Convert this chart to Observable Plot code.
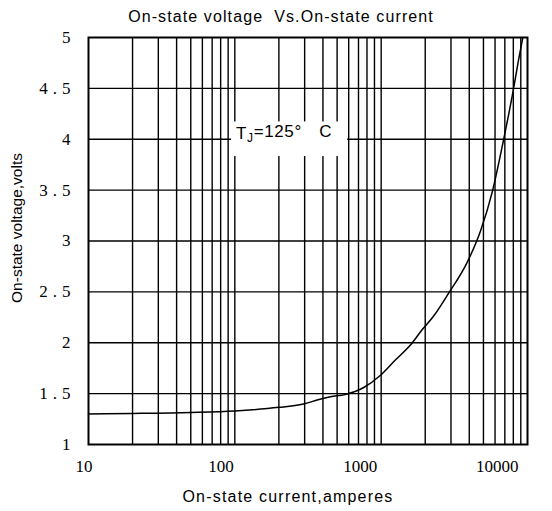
<!DOCTYPE html>
<html>
<head>
<meta charset="utf-8">
<script src="https://cdn.jsdelivr.net/npm/d3@7"></script>
<script src="https://cdn.jsdelivr.net/npm/@observablehq/plot@0.6"></script>
<style>
  body { margin: 0; background: #fff; }
  #title { width: 552px; height: 26px; box-sizing: border-box; padding: 8px 0 0 10px; text-align: center;
           font: 16px "Liberation Sans", Arial, sans-serif; letter-spacing: 1.1px; color: #000; white-space: pre; line-height: 18px; }
  #chart { line-height: 0; }
</style>
</head>
<body>
<div id="title"></div>
<div id="chart"></div>
<script>
const titleText = "On-state voltage  Vs.On-state current";
const xLabel = "On-state current,amperes";
const yLabel = "On-state voltage,volts";

const currents = [10, 20, 50, 100, 200, 300, 370, 450, 565, 760, 990, 1250, 1590, 1910, 2250, 2900, 3870, 4780, 5740, 6830, 7990, 8590, 9300];
const voltages = [1.30, 1.305, 1.315, 1.33, 1.365, 1.40, 1.44, 1.47, 1.49, 1.56, 1.68, 1.83, 1.98, 2.13, 2.25, 2.49, 2.79, 3.10, 3.48, 3.98, 4.48, 4.74, 5.0];

const xTicks = [10, 100, 1000, 10000];
const yTicks = [1, 1.5, 2, 2.5, 3, 3.5, 4, 4.5, 5];
const xGrid = [20,30,40,50,60,70,80,90,100,200,300,400,500,600,700,800,900,1000,2000,3000,4000,5000,6000,7000,8000,9000];
const yGrid = [1.5, 2, 2.5, 3, 3.5, 4, 4.5];

const annotMain = "T";
const annotSub = "J";
const annotRest = "=125°";
const annotUnit = "C";
const annotX = 217, annotY = 4.06;
const annotBox = {x1: 95, x2: 590, y1: 3.83, y2: 4.17};

document.getElementById("title").textContent = titleText;

const data = currents.map((c, i) => ({current: c, voltage: voltages[i]}));

const serif = "'Liberation Serif', 'DejaVu Serif', serif";
const sans = "'Liberation Sans', Arial, sans-serif";

// per-label horizontal nudges of the x tick labels (style only)
const xTickNudge = [4, -1, -4, -9];

const plot = Plot.plot({
  width: 552,
  height: 485,
  marginTop: 11,
  marginLeft: 88,
  marginRight: 25,
  marginBottom: 67,
  x: {type: "log", domain: [10, 10000]},
  y: {domain: [1, 5]},
  style: {background: "#fff", color: "#000", fontFamily: sans},
  marks: [
    Plot.ruleX(xGrid, {stroke: "#000", strokeWidth: 1.4}),
    Plot.ruleY(yGrid, {stroke: "#000", strokeWidth: 1.4}),
    Plot.rect([annotBox], {x1: "x1", x2: "x2", y1: "y1", y2: "y2", fill: "#fff"}),
    Plot.text([{x: annotX, y: annotY}], {x: "x", y: "y", text: () => annotMain + annotSub + annotRest + " " + annotUnit,
      fontSize: 17, fontFamily: sans, fill: "#000", className: "annot"}),
    Plot.line(data, {x: "current", y: "voltage", curve: "monotone-x", stroke: "#000", strokeWidth: 1.5}),
    Plot.frame({stroke: "#000", strokeWidth: 2}),
    ...xTicks.map((t, i) => Plot.axisX([t], {tickSize: 0, tickPadding: 15, tickFormat: d => String(d), label: null,
      fontSize: 17, fontFamily: serif, textAnchor: "end", dx: xTickNudge[i]})),
    Plot.axisY(yTicks, {tickSize: 0, tickPadding: 13, tickFormat: d => String(d), label: null,
      fontSize: 17, fontFamily: serif, className: "ytick"}),
    Plot.text([xLabel], {frameAnchor: "bottom", text: d => d, dy: 52, dx: -20, lineAnchor: "middle",
      fontSize: 16, fontFamily: sans, fill: "#000", className: "xlab"}),
    Plot.text([yLabel], {frameAnchor: "left", text: d => d, rotate: -90, dx: -71, dy: -13, lineAnchor: "middle",
      textAnchor: "middle", fontSize: 15.5, fontFamily: sans, fill: "#000"})
  ]
});

// subscript formatting for the annotation
d3.select(plot).selectAll(".annot text").each(function () {
  const t = d3.select(this);
  t.text("");
  t.style("letter-spacing", "0.6px");
  t.append("tspan").text(annotMain);
  t.append("tspan").attr("font-size", 12).attr("dy", "0.3em").text(annotSub);
  t.append("tspan").attr("dy", "-0.3em").text(annotRest + " ");
  t.append("tspan").attr("dx", 12).text(annotUnit);
});

d3.select(plot).selectAll(".ytick text").style("letter-spacing", "5px");
d3.select(plot).selectAll(".xlab text").style("letter-spacing", "1.2px");

document.getElementById("chart").appendChild(plot);
</script>
</body>
</html>
